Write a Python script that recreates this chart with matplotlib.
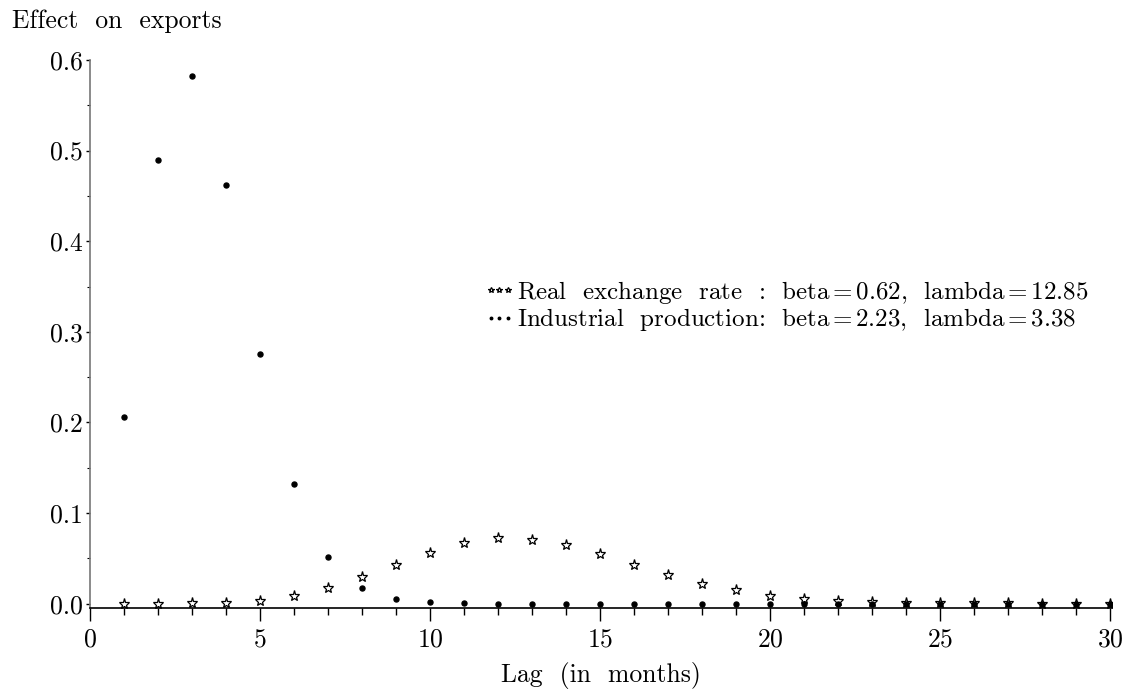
import matplotlib
matplotlib.use("Agg")
import matplotlib.pyplot as plt
from matplotlib.ticker import MultipleLocator, FormatStrFormatter

plt.rcParams['font.family'] = ['cmr10', 'DejaVu Serif']
plt.rcParams['axes.formatter.use_mathtext'] = True
plt.rcParams['mathtext.fontset'] = 'cm'

lags = list(range(1, 31))
real_exchange = [0.0, 0.0, 0.0003, 0.001, 0.0034, 0.0083, 0.017, 0.029, 0.0425, 0.056,
                 0.067, 0.072, 0.0708, 0.065, 0.0548, 0.043, 0.032, 0.022, 0.0147, 0.0086,
                 0.005, 0.0027, 0.0018, 0.001, 0.0006, 0.0003, 0.0002, 0.0001, 0.0, 0.0]
industrial = [0.206, 0.490, 0.582, 0.462, 0.275, 0.132, 0.052, 0.017, 0.005, 0.0016,
              0.0004, 0.0001, 0.0, 0.0, 0.0, 0.0, 0.0, 0.0, 0.0, 0.0,
              0.0, 0.0, 0.0, 0.0, 0.0, 0.0, 0.0, 0.0, 0.0, 0.0]
label_rer = "Real  exchange  rate  :  beta$\\,$=$\\,$0.62,  lambda$\\,$=$\\,$12.85"
label_ip = "Industrial  production:  beta$\\,$=$\\,$2.23,  lambda$\\,$=$\\,$3.38"

FS = 18.5

fig = plt.figure(figsize=(11.33, 6.95), dpi=100)
ax = fig.add_axes([90/1133, 1-608/695, 1022/1133, (608-60)/695])

ax.plot(lags, real_exchange, linestyle='none', marker='*', markersize=8,
        markerfacecolor='none', markeredgecolor='black', markeredgewidth=0.9,
        label=label_rer)
ax.plot(lags, industrial, linestyle='none', marker='o', markersize=3.6,
        color='black', label=label_ip)

ax.set_xlim(0, 30.05)
ax.set_ylim(-0.0048, 0.6)
ax.xaxis.set_major_locator(MultipleLocator(5))
ax.xaxis.set_minor_locator(MultipleLocator(1))
ax.yaxis.set_major_locator(MultipleLocator(0.1))
ax.yaxis.set_minor_locator(MultipleLocator(0.05))
ax.yaxis.set_major_formatter(FormatStrFormatter('%.1f'))

for s in ['top', 'right']:
    ax.spines[s].set_visible(False)
ax.spines['left'].set_color('#777777')
ax.spines['left'].set_linewidth(1.2)
ax.spines['bottom'].set_color('black')
ax.spines['bottom'].set_linewidth(1.2)

ax.tick_params(axis='x', which='major', direction='out', length=9, width=1, labelsize=FS, pad=5)
ax.tick_params(axis='x', which='minor', direction='out', length=5, width=1)
ax.tick_params(axis='y', which='major', direction='out', length=3, width=1, labelsize=FS, pad=2)
ax.tick_params(axis='y', which='minor', direction='out', length=2, width=0.8)

ax.set_xlabel("Lag  (in  months)", fontsize=FS, labelpad=8)
fig.text(12/1133, 1-21/695, "Effect  on  exports", fontsize=FS, ha='left', va='center')

leg = ax.legend(loc='center left', bbox_to_anchor=(483/1133, 1-306/695),
                bbox_transform=fig.transFigure, frameon=False, fontsize=18,
                numpoints=3, markerscale=0.5, handlelength=1.3, handletextpad=0.05,
                borderpad=0, labelspacing=0.03, borderaxespad=0)

fig.savefig("out.png", dpi=100)
